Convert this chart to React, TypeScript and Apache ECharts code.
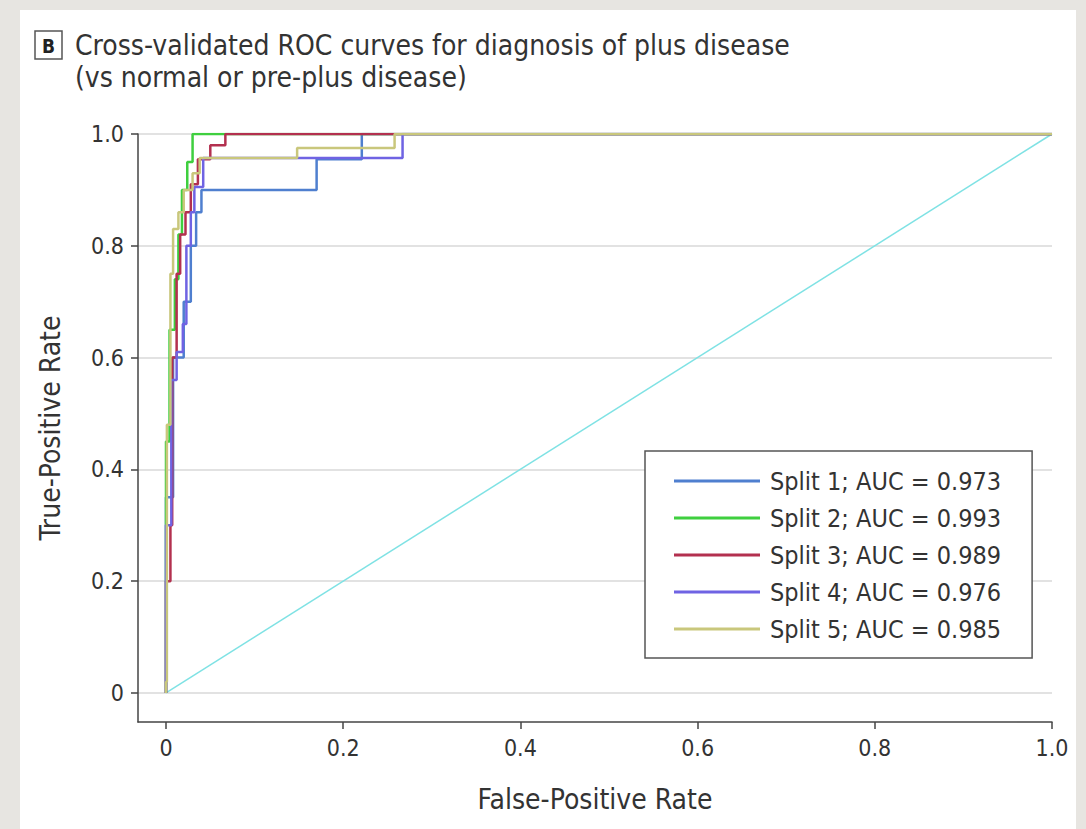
import React, { useEffect, useRef } from "react";
import * as echarts from "echarts";

const tickValues = [0, 0.2, 0.4, 0.6, 0.8, 1.0];
const titleLine1 = "Cross-validated ROC curves for diagnosis of plus disease";
const titleLine2 = "(vs normal or pre-plus disease)";
const panelLetter = "B";
const splitNames = ["Split 1", "Split 2", "Split 3", "Split 4", "Split 5"];
const aucValues = ["0.973", "0.993", "0.989", "0.976", "0.985"];
const splitColors = ["#4f7fcf", "#3fcf3f", "#b3304f", "#6f63e3", "#c9c77c"];

// ROC vertices [FPR, TPR]
const split1 = [
  [0, 0], [0, 0.35], [0.008, 0.35], [0.008, 0.6], [0.02, 0.6], [0.02, 0.7],
  [0.028, 0.7], [0.028, 0.8], [0.034, 0.8], [0.034, 0.86], [0.04, 0.86],
  [0.04, 0.9], [0.17, 0.9], [0.17, 0.955], [0.221, 0.955], [0.221, 1], [1, 1],
];
const split2 = [
  [0, 0], [0, 0.45], [0.004, 0.45], [0.004, 0.65], [0.01, 0.65], [0.01, 0.74],
  [0.014, 0.74], [0.014, 0.82], [0.018, 0.82], [0.018, 0.9], [0.024, 0.9],
  [0.024, 0.95], [0.03, 0.95], [0.03, 1], [1, 1],
];
const split3 = [
  [0, 0], [0, 0.2], [0.005, 0.2], [0.005, 0.3], [0.007, 0.3], [0.007, 0.6],
  [0.012, 0.6], [0.012, 0.75], [0.016, 0.75], [0.016, 0.82], [0.022, 0.82],
  [0.022, 0.86], [0.028, 0.86], [0.028, 0.91], [0.036, 0.91], [0.036, 0.955],
  [0.05, 0.955], [0.05, 0.98], [0.067, 0.98], [0.067, 1], [1, 1],
];
const split4 = [
  [0, 0], [0, 0.3], [0.006, 0.3], [0.006, 0.56], [0.012, 0.56], [0.012, 0.61],
  [0.019, 0.61], [0.019, 0.66], [0.023, 0.66], [0.023, 0.8], [0.028, 0.8],
  [0.028, 0.86], [0.032, 0.86], [0.032, 0.905], [0.042, 0.905], [0.042, 0.957],
  [0.267, 0.957], [0.267, 1], [1, 1],
];
const split5 = [
  [0, 0], [0, 0.02], [0.001, 0.02], [0.001, 0.48], [0.005, 0.48], [0.005, 0.75],
  [0.008, 0.75], [0.008, 0.83], [0.014, 0.83], [0.014, 0.86], [0.02, 0.86],
  [0.02, 0.9], [0.03, 0.9], [0.03, 0.93], [0.038, 0.93], [0.038, 0.957],
  [0.148, 0.957], [0.148, 0.975], [0.258, 0.975], [0.258, 1], [1, 1],
];
const chanceLine = [[0, 0], [1, 1]];

const FONT = "'DejaVu Sans Condensed', 'Liberation Sans Narrow', 'Noto Sans', sans-serif";

export default function App() {
  const ref = useRef<HTMLDivElement>(null);
  useEffect(() => {
    if (!ref.current) return;
    const chart = echarts.init(ref.current, undefined, { renderer: "svg" });
    const splits = [split1, split2, split3, split4, split5];
    const labels = splitNames.map((n, i) => `${n}; AUC = ${aucValues[i]}`);
    const fmt = (v: number) => (v === 0 ? "0" : v.toFixed(1));
    chart.setOption({
      animation: false,
      backgroundColor: "transparent",
      textStyle: { fontFamily: FONT },
      grid: { left: 138, right: 34, top: 134, bottom: 107, containLabel: false },
      xAxis: {
        type: "value",
        min: -0.0316,
        max: 1,
        name: "False-Positive Rate",
        nameLocation: "middle",
        nameGap: 63,
        nameTextStyle: { fontSize: 28, color: "#333", fontFamily: FONT },
        axisLine: { show: true, onZero: false, lineStyle: { color: "#444", width: 1.5 } },
        axisTick: { show: true, customValues: tickValues, length: 7, lineStyle: { color: "#444", width: 1.5 } },
        axisLabel: { customValues: tickValues, formatter: fmt, fontSize: 23, color: "#333", margin: 14, fontFamily: FONT },
        splitLine: { show: false },
      },
      yAxis: {
        type: "value",
        min: -0.0519,
        max: 1,
        name: "True-Positive Rate",
        nameLocation: "middle",
        nameGap: 74,
        nameRotate: 90,
        nameTextStyle: { fontSize: 28, color: "#333", fontFamily: FONT },
        axisLine: { show: true, onZero: false, lineStyle: { color: "#444", width: 1.5 } },
        axisTick: { show: true, customValues: tickValues, length: 7, lineStyle: { color: "#444", width: 1.5 } },
        axisLabel: { customValues: tickValues, formatter: fmt, fontSize: 23, color: "#333", margin: 14, fontFamily: FONT },
        splitLine: { show: true, lineStyle: { color: "#d8d8d8", width: 1.5 } },
      },
      legend: {
        data: labels,
        orient: "vertical",
        left: 645,
        top: 451,
        padding: [17.5, 31, 16.5, 29],
        backgroundColor: "#fff",
        borderColor: "#555",
        borderWidth: 1.5,
        borderRadius: 0,
        icon: "rect",
        itemWidth: 86,
        itemHeight: 3,
        itemGap: 12,
        textStyle: { fontSize: 25, color: "#333", lineHeight: 25, fontFamily: FONT, padding: [0, 0, 0, 5] },
        selectedMode: false,
      },
      graphic: [
        { type: "rect", shape: { x: 35, y: 31, width: 27, height: 28 }, style: { fill: "#fff", stroke: "#555", lineWidth: 1.5 } },
        { type: "text", x: 48.5, y: 45.5, style: { text: panelLetter, fontSize: 19, fontWeight: "bold", fill: "#222", align: "center", verticalAlign: "middle", fontFamily: FONT } },
        { type: "text", x: 75, y: 45, style: { text: titleLine1, fontSize: 28, fill: "#333", verticalAlign: "middle", fontFamily: FONT } },
        { type: "text", x: 75, y: 77, style: { text: titleLine2, fontSize: 28, fill: "#333", verticalAlign: "middle", fontFamily: FONT } },
      ],
      series: [
        {
          type: "line",
          name: "chance",
          data: chanceLine,
          symbol: "none",
          lineStyle: { color: "#7fe2e4", width: 1.5 },
          z: 1,
        },
        ...splits.map((d, i) => ({
          type: "line",
          name: labels[i],
          data: d,
          symbol: "none",
          color: splitColors[i],
          lineStyle: { color: splitColors[i], width: 2.5 },
          z: 2 + i,
        })),
      ],
    });
    return () => chart.dispose();
  }, []);
  return (
    <div style={{ position: "fixed", left: 0, top: 0, width: 1086, height: 829, background: "#e7e5e1" }}>
      <div style={{ position: "absolute", left: 20, top: 10, width: 1056, height: 819, background: "#fff" }} />
      <div ref={ref} style={{ position: "absolute", left: 0, top: 0, width: 1086, height: 829 }} />
    </div>
  );
}
